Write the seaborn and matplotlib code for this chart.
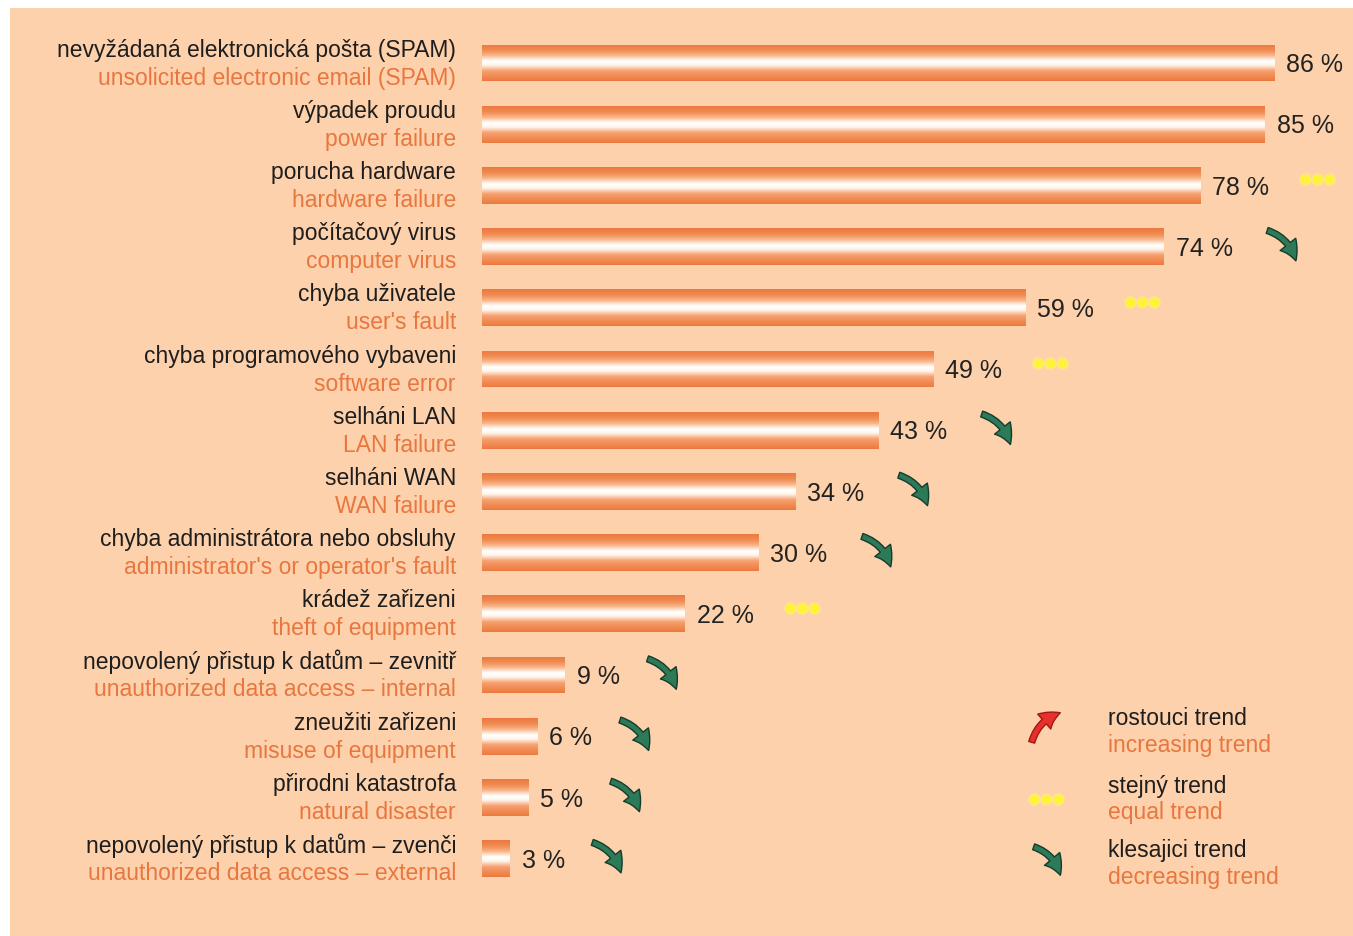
import numpy as np
import pandas as pd
import matplotlib
matplotlib.use("Agg")
import matplotlib.pyplot as plt
from matplotlib.colors import LinearSegmentedColormap
from matplotlib.patches import FancyArrowPatch, Rectangle
import matplotlib.transforms as mtransforms
import seaborn as sns

sns.set_theme(style="white")
plt.rcParams['font.family'] = ['Liberation Sans', 'DejaVu Sans']

# data
labels_cz = ["nevyžádaná elektronická pošta (SPAM)", "výpadek proudu", "porucha hardware",
             "počítačový virus", "chyba uživatele", "chyba programového vybaveni",
             "selháni LAN", "selháni WAN", "chyba administrátora nebo obsluhy",
             "krádež zařizeni", "nepovolený přistup k datům – zevnitř", "zneužiti zařizeni",
             "přirodni katastrofa", "nepovolený přistup k datům – zvenči"]
labels_en = ["unsolicited electronic email (SPAM)", "power failure", "hardware failure",
             "computer virus", "user's fault", "software error", "LAN failure", "WAN failure",
             "administrator's or operator's fault", "theft of equipment",
             "unauthorized data access – internal", "misuse of equipment",
             "natural disaster", "unauthorized data access – external"]
values = [86, 85, 78, 74, 59, 49, 43, 34, 30, 22, 9, 6, 5, 3]
trends = ["", "", "equal", "down", "equal", "equal", "down", "down", "down",
          "equal", "down", "down", "down", "down"]

legend_cz = ["rostouci trend", "stejný trend", "klesajici trend"]
legend_en = ["increasing trend", "equal trend", "decreasing trend"]

BG = "#FDD1AB"
EN_COL = "#E8763F"
CZ_COL = "#1E1E1E"
GREEN = "#2C7A58"
GREEN_DARK = "#143C2C"
YELLOW = "#FFF23A"
LABEL_FS = 16.5

W, H = 1353, 937
fig = plt.figure(figsize=(W / 100, H / 100), dpi=100, facecolor="white")
fig.patches.append(Rectangle((10 / W, 0), 1, 1 - 9 / H, transform=fig.transFigure,
                             facecolor=BG, edgecolor="none", zorder=-10))

px_per_unit = 9.21
left_px, right_px = 482, 1353
spacing = 61.2
top_px = 64 - spacing / 2
ax_h = spacing * len(values)
ax = fig.add_axes([left_px / W, 1 - (top_px + ax_h) / H,
                   (right_px - left_px) / W, ax_h / H])
ax.set_facecolor("none")

df = pd.DataFrame({"cat": labels_cz, "val": values})
sns.barplot(data=df, y="cat", x="val", orient="h", width=0.6, color="#F08A50",
            ax=ax, saturation=1)

xmax = (right_px - left_px) / px_per_unit

# gradient fill inside each bar
cmap = LinearSegmentedColormap.from_list("bar", [
    (0.0, "#EC7A40"), (0.15, "#F08A50"), (0.3, "#F8B488"), (0.45, "#FFFFFF"),
    (0.57, "#FFF6EC"), (0.72, "#F7A374"), (0.88, "#F08A50"), (1.0, "#EC7A40")])
grad = np.linspace(0, 1, 64).reshape(-1, 1)
for p in list(ax.patches):
    x0, y0, w, h = p.get_x(), p.get_y(), p.get_width(), p.get_height()
    im = ax.imshow(grad, cmap=cmap, aspect="auto", extent=(x0, x0 + w, y0 + h, y0),
                   origin="upper", zorder=2, interpolation="bilinear")
    im.set_clip_path(p)
    p.set_facecolor("none")
    p.set_edgecolor("none")
ax.set_xlim(0, xmax)
ax.set_ylim(len(values) - 0.5, -0.5)

ax.set_xticks([])
ax.set_yticks([])
ax.set_xlabel("")
ax.set_ylabel("")
sns.despine(ax=ax, left=True, bottom=True)

trans = mtransforms.blended_transform_factory(ax.transAxes, ax.transData)
lab_x = (456 - left_px) / (right_px - left_px)
off = 14 / spacing


def draw_arrow(a, b, color, edge, transform, rad=-0.3):
    arr = FancyArrowPatch(a, b, transform=transform, connectionstyle=f"arc3,rad={rad}",
                          arrowstyle="simple,head_width=1.3,head_length=1.2,tail_width=0.4",
                          mutation_scale=11, facecolor=color, edgecolor=edge, lw=1.0,
                          zorder=5, clip_on=False)
    if transform is fig.transFigure:
        fig.patches.append(arr)
    else:
        ax.add_patch(arr)


for i, (cz, en, v, t) in enumerate(zip(labels_cz, labels_en, values, trends)):
    ax.text(lab_x, i - off, cz, transform=trans, ha="right", va="center",
            fontsize=LABEL_FS, color=CZ_COL)
    ax.text(lab_x, i + off, en, transform=trans, ha="right", va="center",
            fontsize=LABEL_FS, color=EN_COL)
    ax.text(v + 12 / px_per_unit, i + 0.02, f"{v} %", ha="left", va="center",
            fontsize=18, color="#222222")
    shift = (75 + 21 * len(str(v))) / px_per_unit
    cx = v + shift
    if t == "down":
        dx, dy = 16 / px_per_unit, 17 / spacing
        draw_arrow((cx - dx, i - dy), (cx + dx, i + dy), GREEN, GREEN_DARK, ax.transData)
    elif t == "equal":
        for k in (-1, 0, 1):
            ax.plot([cx + k * 12 / px_per_unit], [i - 6 / spacing], "o", ms=8,
                    color=YELLOW, mec="#FFE68A", mew=1, clip_on=False, zorder=5)

# legend
leg_y = [732, 799, 864]
for k in range(3):
    yc = leg_y[k]
    fig.text(1108 / W, 1 - (yc - 13) / H, legend_cz[k], ha="left", va="center",
             fontsize=LABEL_FS, color=CZ_COL)
    fig.text(1108 / W, 1 - (yc + 14) / H, legend_en[k], ha="left", va="center",
             fontsize=LABEL_FS, color=EN_COL)

draw_arrow((1031 / W, 1 - 746 / H), (1063 / W, 1 - 713 / H), "#E8302A", "#A01818",
           fig.transFigure)
for k in (-1, 0, 1):
    fig.lines.append(plt.Line2D([(1046 + 12 * k) / W], [1 - 800 / H], marker="o",
                                ms=8, color=YELLOW, mec="#FFE68A", mew=1,
                                transform=fig.transFigure))
draw_arrow((1031 / W, 1 - 847 / H), (1061 / W, 1 - 879 / H), GREEN, GREEN_DARK,
           fig.transFigure)

fig.savefig("out.png", dpi=100, facecolor="white")
